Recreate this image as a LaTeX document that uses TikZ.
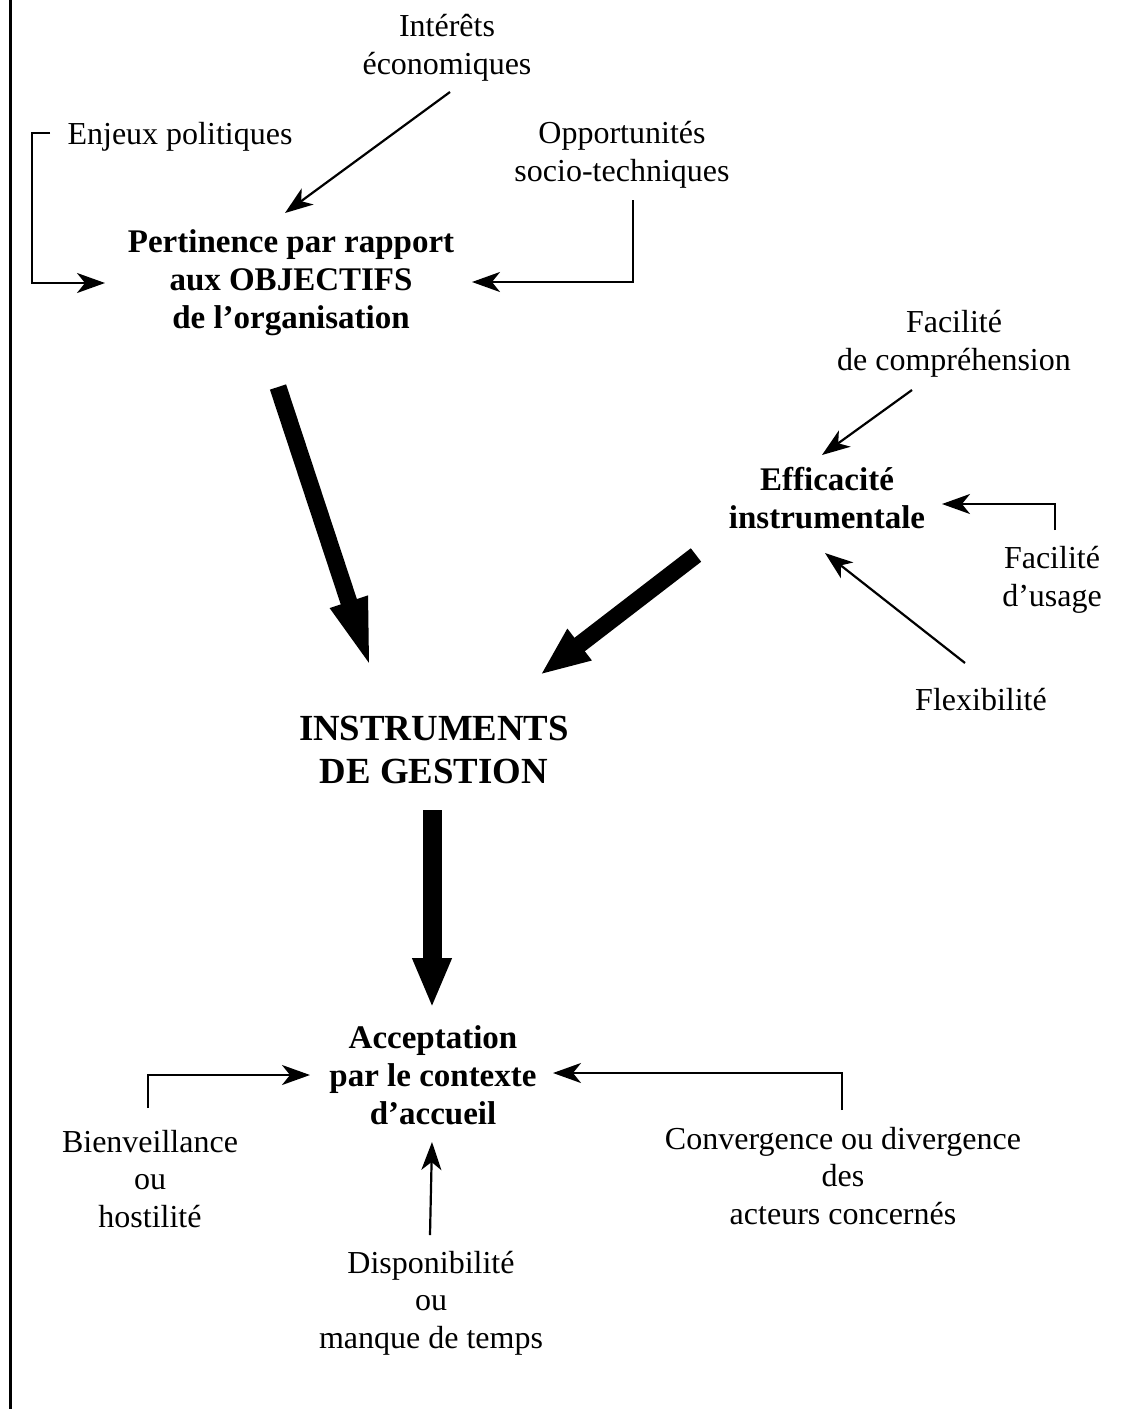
\documentclass[tikz,border=0pt]{standalone}
\usepackage{fontspec}
\setmainfont{Liberation Serif}
\usetikzlibrary{arrows.meta}
\begin{document}
\begin{tikzpicture}[x=0.5pt,y=-0.5pt,
  lbl/.style={align=center,inner sep=0pt,font=\fontsize{16}{18.75}\selectfont},
  key/.style={align=center,inner sep=0pt,font=\fontsize{16.5}{19}\selectfont\bfseries},
  big/.style={align=center,inner sep=0pt,font=\fontsize{18.4}{21.5}\selectfont\bfseries},
  conn/.style={line width=1.1pt,-{Stealth[length=14pt,width=10pt,inset=4pt]}},
  heavy/.style={line width=8.5pt,-{Triangle[length=25pt,width=18pt]}},
]
\useasboundingbox (0,0) rectangle (1127,1409);
% frame rule on the left
\draw[line width=1.5pt] (10,0) -- (10,1409);

% text blocks
\node[lbl] (int)  at (447,48)   {Intérêts\\économiques};
\node[lbl] (enj)  at (180,137)  {Enjeux politiques};
\node[lbl] (opp)  at (622,155)  {Opportunités\\socio-techniques};
\node[key] (pert) at (291,283)  {Pertinence par rapport\\aux OBJECTIFS\\de l’organisation};
\node[lbl] (fac)  at (954,344)  {Facilité\\de compréhension};
\node[key] (eff)  at (827,498)  {Efficacité\\instrumentale};
\node[lbl] (fu)   at (1052,580) {Facilité\\d’usage};
\node[lbl] (flex) at (981,700)  {Flexibilité};
\node[big] (ins)  at (434,750)  {INSTRUMENTS\\DE GESTION};
\node[key] (acc)  at (433,1075) {Acceptation\\par le contexte\\d’accueil};
\node[lbl] (bien) at (150,1179) {Bienveillance\\ou\\hostilité};
\node[lbl] (conv) at (843,1176) {Convergence ou divergence\\des\\acteurs concernés};
\node[lbl] (disp) at (431,1303) {Disponibilité\\ou\\manque de temps};

% connector end points
\coordinate (intS) at (450,92);   \coordinate (intE) at (285,213);
\coordinate (enjS) at (50,133);   \coordinate (enjC) at (32,133);
\coordinate (enjE) at (105,283);
\coordinate (oppS) at (633,200);  \coordinate (oppE) at (472,282);
\coordinate (facS) at (912,390);  \coordinate (facE) at (822,455);
\coordinate (fuS)  at (1055,530); \coordinate (fuE)  at (942,504);
\coordinate (flS)  at (965,663);  \coordinate (flE)  at (825,553);
\coordinate (bnS)  at (148,1108); \coordinate (bnE)  at (310,1075);
\coordinate (cvS)  at (842,1110); \coordinate (cvE)  at (553,1073);
\coordinate (dpS)  at (430,1235); \coordinate (dpE)  at (432,1142);
\coordinate (h1S)  at (278,387);  \coordinate (h1E)  at (372,672);
\coordinate (h2S)  at (696,555);  \coordinate (h2E)  at (540,675);
\coordinate (h3S)  at (432,810);  \coordinate (h3E)  at (432,1008);

% thin connectors
\draw[conn] (intS) -- (intE);
\draw[conn] (enjS) -- (enjC) |- (enjE);
\draw[conn] (oppS) |- (oppE);
\draw[conn] (facS) -- (facE);
\draw[conn] (fuS) |- (fuE);
\draw[conn] (flS) -- (flE);
\draw[conn] (bnS) |- (bnE);
\draw[conn] (cvS) |- (cvE);
\draw[conn] (dpS) -- (dpE);

% heavy arrows into and out of the instruments
\draw[heavy,-{Triangle[length=37pt,width=17pt]}] (h1S) -- (h1E);
\draw[heavy] (h2S) -- (h2E);
\draw[heavy,line width=9.5pt] (h3S) -- (h3E);
\end{tikzpicture}
\end{document}
